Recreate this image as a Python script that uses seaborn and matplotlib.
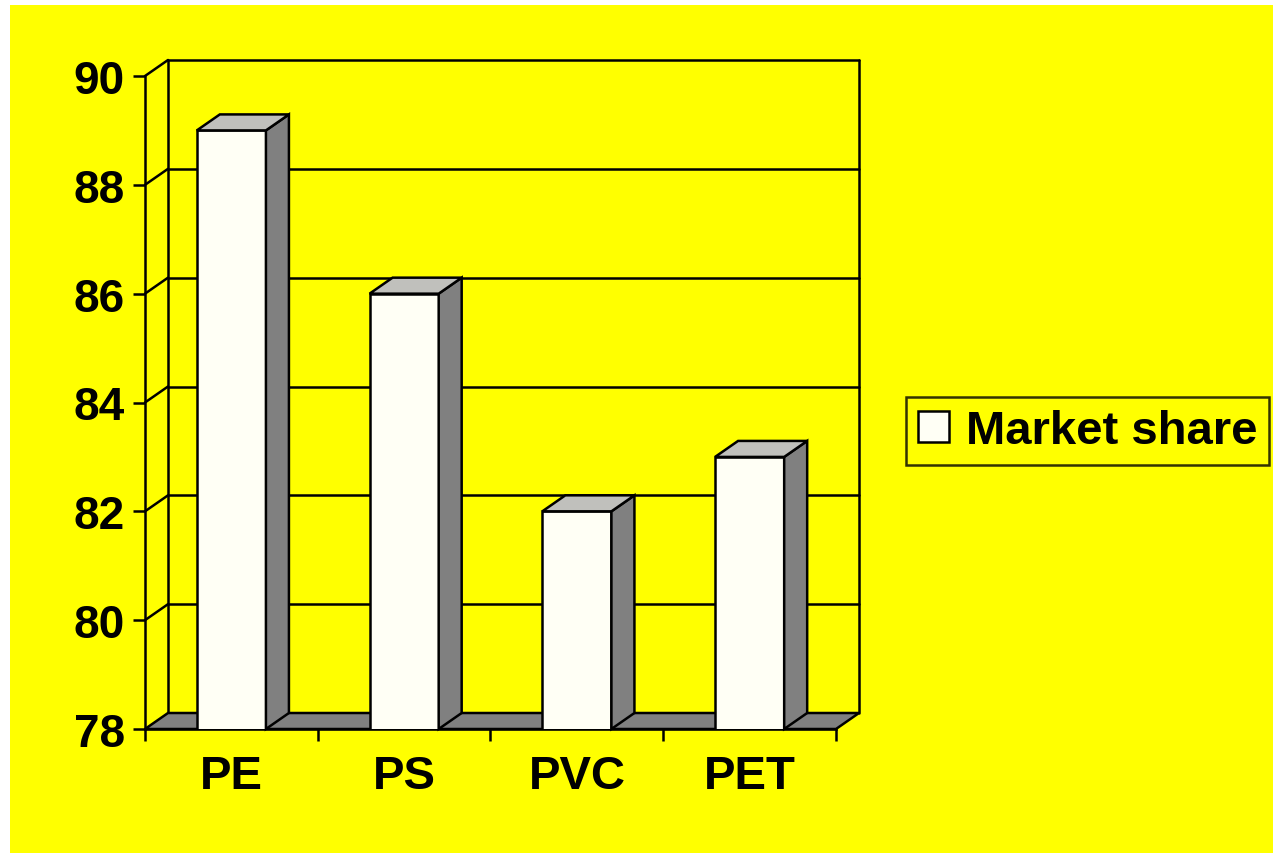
import matplotlib
matplotlib.use("Agg")
import matplotlib.pyplot as plt
from matplotlib.patches import Polygon, Rectangle, Patch
import seaborn as sns

# data
categories = ["PE", "PS", "PVC", "PET"]
market_share = [89, 86, 82, 83]
y_ticks = [78, 80, 82, 84, 86, 88, 90]
series_name = "Market share"

sns.set_style("ticks", {"axes.edgecolor": "black", "text.color": "black",
                        "xtick.color": "black", "ytick.color": "black"})
plt.rcParams['font.family'] = ['Liberation Sans', 'DejaVu Sans']
plt.rcParams['font.weight'] = 'bold'

W, H = 1273, 854
fig = plt.figure(figsize=(W / 100, H / 100), dpi=100, facecolor="white")
fig.patches.append(Rectangle((10 / W, 0), 1 - 10 / W, 1 - 6 / H, transform=fig.transFigure,
                             facecolor="#FFFF00", edgecolor="none", zorder=-10))

# front plane of the fake 3d box
left, right, top, bottom = 145, 836, 77, 730
ax = fig.add_axes([left / W, (H - bottom) / H, (right - left) / W, (bottom - top) / H])
ax.set_facecolor("none")

front = "#FFFFF5"
side = "#808080"
lid = "#C0C0BC"
lw = 1.8

sns.barplot(x=categories, y=market_share, width=0.4, color=front, saturation=1,
            edgecolor="black", linewidth=lw, ax=ax)
ax.set_xlim(-0.5, len(categories) - 0.5)
ax.set_ylim(y_ticks[0], y_ticks[-1])

# depth offset in data units (23 px right, 16 px up)
dx = 23 / ((right - left) / len(categories))
dy = 16 / ((bottom - top) / (y_ticks[-1] - y_ticks[0]))
x0, x1 = -0.5, len(categories) - 0.5
y0, y1 = y_ticks[0], y_ticks[-1]

# back wall + grid
for v in y_ticks[1:]:
    ax.plot([x0 + dx, x1 + dx], [v + dy, v + dy], color="black", lw=lw, clip_on=False, zorder=0.5)
    ax.plot([x0, x0 + dx], [v, v + dy], color="black", lw=lw, clip_on=False, zorder=0.5)
ax.plot([x0 + dx, x0 + dx], [y0 + dy, y1 + dy], color="black", lw=lw, clip_on=False, zorder=0.5)
ax.plot([x1 + dx, x1 + dx], [y0 + dy, y1 + dy], color="black", lw=lw, clip_on=False, zorder=0.5)

# floor
ax.add_patch(Polygon([(x0, y0), (x0 + dx, y0 + dy), (x1 + dx, y0 + dy), (x1, y0)],
                     closed=True, facecolor=side, edgecolor="black", lw=lw,
                     clip_on=False, zorder=1))

# bar sides and tops
for p in list(ax.patches):
    if not isinstance(p, Rectangle) or p.get_width() > 1:
        continue
    bx, bw, bh = p.get_x(), p.get_width(), p.get_height()
    p.set_zorder(3)
    ax.add_patch(Polygon([(bx + bw, y0), (bx + bw, bh), (bx + bw + dx, bh + dy), (bx + bw + dx, y0 + dy)],
                         closed=True, facecolor=side, edgecolor="black", lw=lw,
                         clip_on=False, zorder=3))
    ax.add_patch(Polygon([(bx, bh), (bx + bw, bh), (bx + bw + dx, bh + dy), (bx + dx, bh + dy)],
                         closed=True, facecolor=lid, edgecolor="black", lw=lw,
                         clip_on=False, zorder=3))

# axes styling
for s in ["top", "right"]:
    ax.spines[s].set_visible(False)
for s in ["left", "bottom"]:
    ax.spines[s].set_linewidth(lw)
    ax.spines[s].set_color("black")
    ax.spines[s].set_zorder(2.5)

ax.set_yticks(y_ticks)
ax.set_yticklabels([str(v) for v in y_ticks], fontsize=33, fontweight="bold", color="black")
ax.tick_params(axis="y", length=8.6, width=lw, pad=6, color="black")
ax.set_xticks(range(len(categories)))
ax.set_xticklabels(categories, fontsize=34, fontweight="bold", color="black")
ax.set_xticks([i - 0.5 for i in range(len(categories) + 1)], minor=True)
ax.tick_params(axis="x", which="major", length=0, pad=18)
ax.tick_params(axis="x", which="minor", length=8.6, width=lw, color="black")
ax.set_xlabel("")
ax.set_ylabel("")

leg = fig.legend(handles=[Patch(facecolor=front, edgecolor="black", lw=lw, label=series_name)],
                 loc="center left", bbox_to_anchor=(906 / W, 1 - 432 / H),
                 prop={"size": 34, "weight": "bold"}, frameon=True, fancybox=False,
                 handlelength=0.65, handleheight=0.65, handletextpad=0.35,
                 borderpad=0.26, borderaxespad=0)
leg.get_frame().set_facecolor("#FFFF00")
leg.get_frame().set_edgecolor("black")
leg.get_frame().set_linewidth(lw)
for t in leg.get_texts():
    t.set_color("black")

fig.savefig("out.png", dpi=100, facecolor=fig.get_facecolor())
